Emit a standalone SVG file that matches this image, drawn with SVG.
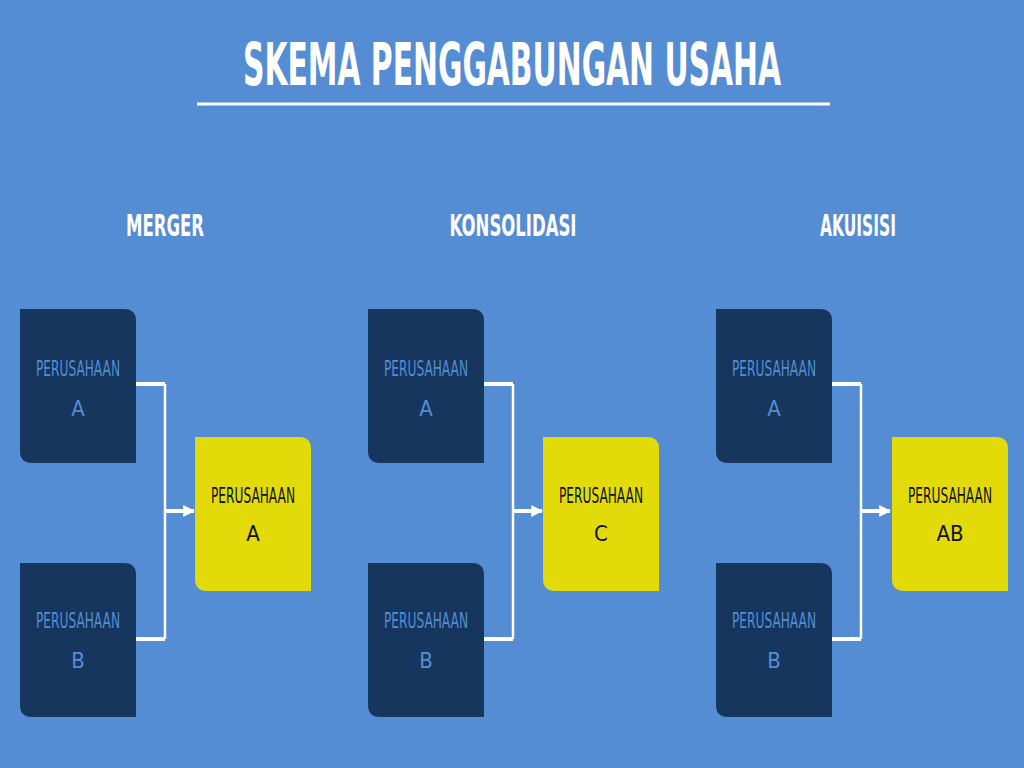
<svg xmlns="http://www.w3.org/2000/svg" width="1024" height="768" viewBox="0 0 1024 768">
<defs>
<style>
.t{font-family:"DejaVu Sans","Liberation Sans",sans-serif;font-weight:bold;fill:#fff;text-anchor:middle}
.n{font-family:"DejaVu Sans Condensed","DejaVu Sans",sans-serif;font-size:22px;text-anchor:middle}
.d{fill:#17365d}.dt{fill:#548dd4}
.y{fill:#e3da0a}.yt{fill:#111}
.c{stroke:#fff;fill:none}
</style>
<path id="box" d="M0 0H104Q116 0 116 12V154H12Q0 154 0 142Z"/>
<marker id="ar" viewBox="0 0 10 10" refX="9" refY="5" markerWidth="3" markerHeight="3" orient="auto"><path d="M0 0L10 5L0 10Z" fill="#fff"/></marker>
</defs>
<rect width="1024" height="768" fill="#548dd4"/>
<text class="t" x="512" y="85" font-size="58" textLength="538" lengthAdjust="spacingAndGlyphs">SKEMA PENGGABUNGAN USAHA</text>
<line x1="197" y1="104" x2="830" y2="104" stroke="#fff" stroke-width="3"/>
<text class="t" x="165" y="236" font-size="30" textLength="78" lengthAdjust="spacingAndGlyphs">MERGER</text>
<text class="t" x="513" y="236" font-size="30" textLength="127" lengthAdjust="spacingAndGlyphs">KONSOLIDASI</text>
<text class="t" x="858" y="236" font-size="30" textLength="76" lengthAdjust="spacingAndGlyphs">AKUISISI</text>
<g id="connectors">
<g id="conn-merger"><path class="c" stroke-width="4" d="M136 384H165M136 639H165"/><path class="c" stroke-width="2.5" d="M165 384V639"/><path class="c" stroke-width="4" d="M165 511H194" marker-end="url(#ar)"/></g>
<g transform="translate(348 0)"><path class="c" stroke-width="4" d="M136 384H165M136 639H165"/><path class="c" stroke-width="2.5" d="M165 384V639"/><path class="c" stroke-width="4" d="M165 511H194" marker-end="url(#ar)"/></g>
<g transform="translate(696 0)"><path class="c" stroke-width="4" d="M136 384H165M136 639H165"/><path class="c" stroke-width="2.5" d="M165 384V639"/><path class="c" stroke-width="4" d="M165 511H194" marker-end="url(#ar)"/></g>
</g>
<g id="m-a" transform="translate(20 309)"><use href="#box" class="d"/><text class="n dt" x="58" y="67" textLength="84" lengthAdjust="spacingAndGlyphs">PERUSAHAAN</text><text class="n dt" x="58" y="107">A</text></g>
<g id="m-b" transform="translate(20 563)"><use href="#box" class="d"/><text class="n dt" x="58" y="65" textLength="84" lengthAdjust="spacingAndGlyphs">PERUSAHAAN</text><text class="n dt" x="58" y="105">B</text></g>
<g id="m-r" transform="translate(195 437)"><use href="#box" class="y"/><text class="n yt" x="58" y="66" textLength="84" lengthAdjust="spacingAndGlyphs">PERUSAHAAN</text><text class="n yt" x="58" y="104">A</text></g>
<g id="k-a" transform="translate(368 309)"><use href="#box" class="d"/><text class="n dt" x="58" y="67" textLength="84" lengthAdjust="spacingAndGlyphs">PERUSAHAAN</text><text class="n dt" x="58" y="107">A</text></g>
<g id="k-b" transform="translate(368 563)"><use href="#box" class="d"/><text class="n dt" x="58" y="65" textLength="84" lengthAdjust="spacingAndGlyphs">PERUSAHAAN</text><text class="n dt" x="58" y="105">B</text></g>
<g id="k-r" transform="translate(543 437)"><use href="#box" class="y"/><text class="n yt" x="58" y="66" textLength="84" lengthAdjust="spacingAndGlyphs">PERUSAHAAN</text><text class="n yt" x="58" y="104">C</text></g>
<g id="a-a" transform="translate(716 309)"><use href="#box" class="d"/><text class="n dt" x="58" y="67" textLength="84" lengthAdjust="spacingAndGlyphs">PERUSAHAAN</text><text class="n dt" x="58" y="107">A</text></g>
<g id="a-b" transform="translate(716 563)"><use href="#box" class="d"/><text class="n dt" x="58" y="65" textLength="84" lengthAdjust="spacingAndGlyphs">PERUSAHAAN</text><text class="n dt" x="58" y="105">B</text></g>
<g id="a-r" transform="translate(892 437)"><use href="#box" class="y"/><text class="n yt" x="58" y="66" textLength="84" lengthAdjust="spacingAndGlyphs">PERUSAHAAN</text><text class="n yt" x="58" y="104">AB</text></g>
</svg>
